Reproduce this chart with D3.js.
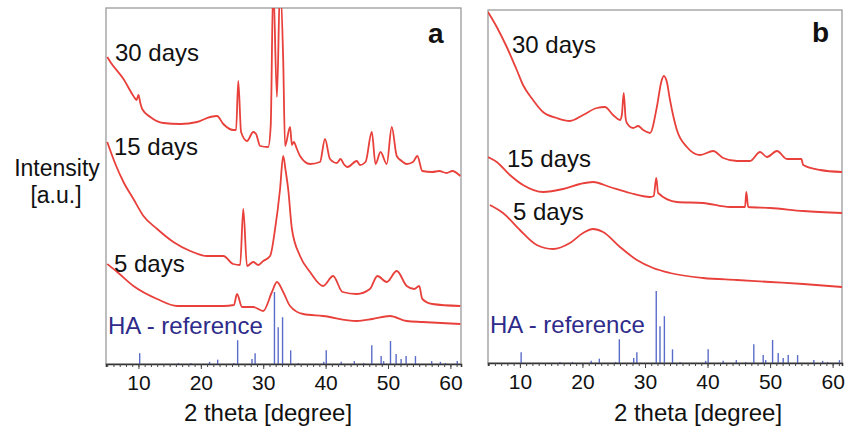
<!DOCTYPE html>
<html>
<head>
<meta charset="utf-8">
<script src="https://cdn.jsdelivr.net/npm/d3@7"></script>
<style>
  body { margin: 0; background: #fff; }
  svg { display: block; }
  text { font-family: Arial, "Liberation Sans", sans-serif; }
</style>
</head>
<body>
<svg id="chart" width="848" height="438"></svg>
<script>
// XRD patterns, [2theta, intensity (a.u.)]
const sampleNames = ['30 days', '15 days', '5 days']
const xTicks = [10, 20, 30, 40, 50, 60]

const a30 = [[5.0,153.5],[5.5,151],[7.6,142.5],[9.2,134],[9.7,132],[10.0,134.5],[10.3,130.5],[10.6,127.5],
  [11.9,123.5],[14.0,120.5],[16.7,120],[19.4,121],[21.5,123.5],[22.6,124],[23.6,120],[25.2,117],[25.65,117],
  [26.0,141.5],[26.45,116],[27.4,111.5],[28.4,116],[28.85,115],[29.5,109],[30.8,108.5],[31.2,119],[31.6,190],
  [32.2,133.5],[32.7,190],[33.2,152.5],[33.5,109],[34.3,118.5],[34.6,109.5],[34.9,111],[35.4,107.5],[35.9,104],
  [37.5,100],[39.1,101],[39.9,112.5],[40.7,102.5],[41.8,100.5],[42.4,102.5],[42.9,100],[43.5,98.5],[45.0,101.5],
  [45.5,99.5],[46.4,101],[47.4,116],[48.0,100],[48.8,106],[49.8,100],[50.6,118.5],[51.4,104],[52.2,101.5],
  [53.0,100],[54.0,101],[54.7,104],[55.5,96.5],[57.1,96],[58.2,96.5],[59.4,95.5],[60.3,96.5],[61.6,94]]

const a15 = [[5.0,111],[6.3,100],[7.6,91],[9.2,82.5],[10.8,74],[13.0,67.5],[15.6,61],[18.3,56.5],[21.0,54],
  [23.6,54],[25.2,50],[26.3,49.5],[26.8,77.5],[27.4,49],[28.4,51],[29.2,49.5],[30.0,51.5],[31.1,54],[31.9,67.5],
  [32.7,87.5],[33.2,104],[33.6,96.5],[34.0,87.5],[34.6,67.5],[35.9,54],[37.5,46],[39.6,39],[41.2,44],[42.7,36],
  [45.0,35],[47.1,37.5],[48.3,44],[49.8,41],[51.4,46.5],[53.0,39],[54.2,37.5],[55.0,39],[55.5,32.5],[57.1,30],
  [61.6,29]]

const a5 = [[5.0,50],[6.6,46],[9.2,39],[13.0,32.5],[16.2,29],[19.9,29],[23.6,29],[25.3,29.5],[25.8,35],
  [26.6,28.5],[28.4,28.5],[30.0,26.5],[31.4,36],[32.2,41],[33.2,36],[34.3,29],[36.4,25],[39.6,24],[45.0,21.5],
  [47.5,22.5],[50.3,24],[53.0,21.5],[55.5,21],[61.6,20]]

const b30 = [[4.9,175.5],[6.3,168],[7.9,158],[9.5,146.5],[10.5,139],[12.1,131.5],[13.7,125.5],[15.9,122.5],
  [18.0,121],[20.1,124],[22.3,127.5],[23.6,128],[24.9,124],[26.0,121.5],[26.3,124],[26.6,135],[26.9,122.5],
  [27.1,120],[28.1,117.5],[28.9,118.5],[29.7,116.5],[30.8,115],[31.9,128],[32.6,140.5],[33.0,143.5],[33.5,140.5],
  [34.0,131.5],[35.1,116.5],[36.7,108],[38.8,104],[40.9,106],[42.5,102.5],[44.7,101],[46.8,101],[48.4,105.5],
  [49.5,103],[51.1,106],[52.7,102],[55.0,102],[55.3,99],[58.0,96.5],[61.5,95.5]]

const b15 = [[4.9,103],[6.3,100.5],[8.4,94],[10.5,89],[13.7,85.5],[16.9,87],[19.6,89.5],[21.7,90.5],[24.4,88],
  [27.6,85],[30.8,83],[31.4,83.5],[31.8,92.5],[32.1,85],[35.1,80.5],[39.3,80],[43.6,78],[46.0,78],[46.2,85.5],
  [46.5,78],[50.0,77.5],[55.3,76],[61.5,75]]

const b5 = [[5.2,79],[7.3,75],[10.0,66.5],[12.7,59],[15.3,57],[18.0,60],[20.1,65],[21.7,67],[23.3,65.5],
  [26.0,58],[28.7,51.5],[31.3,47.5],[34.0,45],[39.3,42.5],[44.7,41.5],[50.0,40.5],[55.3,39.5],[61.5,38]]

// HA reference pattern (relative intensity, strongest = 100)
const haAngles = [10.2,16.4,18.4,21.4,22.7,25.3,25.9,28.2,28.7,31.8,32.4,33.1,34.4,35.6,39.7,40.1,42.5,44.6,
  46.1,47.4,48.9,49.3,50.4,51.3,52.1,52.9,54.4,57.0,58.4,59.2,61.1]
const haIntensity = [15,1.5,1.5,3,6,1.5,33,7,15,100,51,65,19,1.5,3,19,3,4,1.5,26,11,4,32,14,7,11,11,4,3,1.5,4]

const svg = d3.select('#chart')

const panels = [
  { id: 'a', left: 106, right: 461, top: 8, bottom: 364, xDomain: [4.8, 61.7], yMax: 178,
    series: [a30, a15, a5],
    labelPos: [[115, 61], [114, 155], [114, 272]], letter: [428, 43],
    haPos: [108, 334], titleX: 268 },
  { id: 'b', left: 488, right: 842, top: 10, bottom: 363, xDomain: [4.9, 61.5], yMax: 176.5,
    series: [b30, b15, b5],
    labelPos: [[512, 53], [507, 167], [513, 220]], letter: [812, 42],
    haPos: [490, 333], titleX: 698 }
]

panels.forEach(p => {
  const x = d3.scaleLinear().domain(p.xDomain).range([p.left, p.right])
  const y = d3.scaleLinear().domain([0, p.yMax]).range([p.bottom, p.top])
  const stick = d3.scaleLinear().domain([0, 100]).range([p.bottom, p.bottom - 72])

  svg.append('clipPath').attr('id', 'clip-' + p.id)
    .append('rect')
      .attr('x', p.left).attr('y', p.top)
      .attr('width', p.right - p.left).attr('height', p.bottom - p.top)

  const g = svg.append('g')

  // frame
  g.append('rect')
    .attr('x', p.left).attr('y', p.top)
    .attr('width', p.right - p.left).attr('height', p.bottom - p.top)
    .attr('fill', 'none')
    .attr('stroke', '#9a9a9a')
    .attr('stroke-width', 1.3)

  const plot = g.append('g').attr('clip-path', `url(#clip-${p.id})`)

  // HA reference sticks
  plot.selectAll('line.ha')
    .data(haAngles)
    .enter()
    .append('line')
      .attr('class', 'ha')
      .attr('x1', d => x(d)).attr('x2', d => x(d))
      .attr('y1', p.bottom)
      .attr('y2', (d, i) => stick(haIntensity[i]))
      .attr('stroke', '#5a6cc9')
      .attr('stroke-width', 1.4)

  const line = d3.line()
    .x(d => x(d[0]))
    .y(d => y(d[1]))
    .curve(d3.curveMonotoneX)

  plot.selectAll('path.xrd')
    .data(p.series)
    .enter()
    .append('path')
      .attr('class', 'xrd')
      .attr('d', line)
      .attr('fill', 'none')
      .attr('stroke', '#e8403b')
      .attr('stroke-width', 1.8)
      .attr('stroke-linejoin', 'round')

  // bottom axis with minor ticks
  g.append('g')
    .attr('transform', `translate(0, ${p.bottom})`)
    .call(d3.axisBottom(x).tickValues(d3.range(5, 62, 1)).tickSize(3).tickFormat(''))
    .call(a => a.select('.domain').attr('stroke', '#333').attr('stroke-width', 1.6))
    .call(a => a.selectAll('.tick line').attr('stroke', '#444'))

  g.append('g')
    .attr('transform', `translate(0, ${p.bottom})`)
    .call(d3.axisBottom(x).tickValues(xTicks).tickSize(5).tickPadding(6))
    .call(a => a.select('.domain').remove())
    .call(a => a.selectAll('.tick line').attr('stroke', '#444'))
    .call(a => a.selectAll('.tick text')
      .attr('font-size', 21)
      .attr('font-family', 'Arial, "Liberation Sans", sans-serif')
      .attr('fill', '#111'))

  // sample labels
  g.selectAll('text.sample')
    .data(sampleNames)
    .enter()
    .append('text')
      .attr('class', 'sample')
      .attr('x', (d, i) => p.labelPos[i][0])
      .attr('y', (d, i) => p.labelPos[i][1])
      .attr('font-size', 24)
      .attr('fill', '#111')
      .text(d => d)

  g.append('text')
    .attr('x', p.haPos[0]).attr('y', p.haPos[1])
    .attr('font-size', 24)
    .attr('fill', '#2e2b8a')
    .text('HA - reference')

  g.append('text')
    .attr('x', p.letter[0]).attr('y', p.letter[1])
    .attr('font-size', 28)
    .attr('font-weight', 'bold')
    .attr('fill', '#111')
    .text(p.id)

  g.append('text')
    .attr('x', p.titleX).attr('y', 421)
    .attr('text-anchor', 'middle')
    .attr('font-size', 24)
    .attr('fill', '#111')
    .text('2 theta [degree]')
})

svg.append('text')
  .attr('x', 57).attr('y', 176)
  .attr('text-anchor', 'middle')
  .attr('font-size', 23)
  .attr('fill', '#111')
  .text('Intensity')

svg.append('text')
  .attr('x', 56).attr('y', 203)
  .attr('text-anchor', 'middle')
  .attr('font-size', 23)
  .attr('fill', '#111')
  .text('[a.u.]')
</script>
</body>
</html>
